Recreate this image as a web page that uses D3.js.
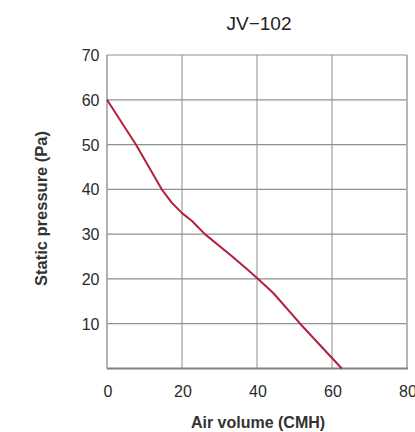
<!DOCTYPE html>
<html><head><meta charset="utf-8">
<script src="https://cdn.jsdelivr.net/npm/d3@7"></script>
<style>body{margin:0;background:#fff;} text{font-family:"Liberation Sans",Arial,Helvetica,sans-serif;}</style>
</head><body>
<svg id="c" width="415" height="432"></svg>
<script>
const title = "JV\u2212102";
const xLabel = "Air volume (CMH)";
const yLabel = "Static pressure (Pa)";
const xTicks = [0, 20, 40, 60, 80];
const yTicks = [10, 20, 30, 40, 50, 60, 70];
const airVolume = [0, 7.7, 14.6, 17.2, 20, 22.6, 26.1, 33, 37.3, 40.3, 44.4, 51.5, 62.6];
const pressure  = [60, 50, 40, 37.1, 34.7, 33, 30, 25.3, 22.2, 20, 16.8, 10, 0];

const svg = d3.select("#c");
const m = {l:107, r:407, t:55, b:368.5};
const x = d3.scaleLinear().domain([0,80]).range([m.l, m.r]);
const y = d3.scaleLinear().domain([0,70]).range([m.b, m.t]);

// vertical gridlines
svg.append("g").selectAll("line").data(xTicks.slice(1,-1)).join("line")
  .attr("x1", d=>x(d)).attr("x2", d=>x(d)).attr("y1", m.t).attr("y2", m.b)
  .attr("stroke", "#a0a0a0").attr("stroke-width", 1.2);
// horizontal gridlines
svg.append("g").selectAll("line").data(yTicks).join("line")
  .attr("x1", m.l).attr("x2", m.r).attr("y1", d=>y(d)).attr("y2", d=>y(d))
  .attr("stroke", "#8f8f8f").attr("stroke-width", 1.2);
// right border
svg.append("line").attr("x1", x(80)).attr("x2", x(80)).attr("y1", m.t).attr("y2", m.b)
  .attr("stroke", "#b5b5b5").attr("stroke-width", 2);
// left axis
svg.append("line").attr("x1", m.l).attr("x2", m.l).attr("y1", m.t).attr("y2", m.b)
  .attr("stroke", "#9a9a9a").attr("stroke-width", 1.5);
// bottom axis
svg.append("line").attr("x1", m.l).attr("x2", m.r+1).attr("y1", m.b).attr("y2", m.b)
  .attr("stroke", "#808080").attr("stroke-width", 2);

// tick labels
svg.append("g").selectAll("text").data(xTicks).join("text")
  .attr("x", d=>x(d)+1).attr("y", 397).attr("text-anchor","middle")
  .attr("font-size", 16).attr("fill", "#2b2b2b").text(d=>d);
svg.append("g").selectAll("text").data(yTicks).join("text")
  .attr("x", 99.5).attr("y", d=>y(d)+6).attr("text-anchor","end")
  .attr("font-size", 16).attr("fill", "#2b2b2b").text(d=>d);

// curve
const pts = airVolume.map((v,i)=>[v, pressure[i]]);
svg.append("path").datum(pts)
  .attr("d", d3.line().x(d=>x(d[0])).y(d=>y(d[1])).curve(d3.curveLinear))
  .attr("fill","none").attr("stroke","#b3203a").attr("stroke-width",2).attr("stroke-linejoin","round");

// titles
svg.append("text").attr("x", 259).attr("y", 30).attr("text-anchor","middle")
  .attr("font-size", 19).attr("fill","#222").text(title);
svg.append("text").attr("x", 258).attr("y", 428).attr("text-anchor","middle")
  .attr("font-size", 16).attr("font-weight","bold").attr("fill","#333").text(xLabel);
svg.append("text").attr("transform","translate(46.5,208.5) rotate(-90)").attr("text-anchor","middle")
  .attr("font-size", 16.5).attr("font-weight","bold").attr("fill","#333").text(yLabel);
</script>
</body></html>
